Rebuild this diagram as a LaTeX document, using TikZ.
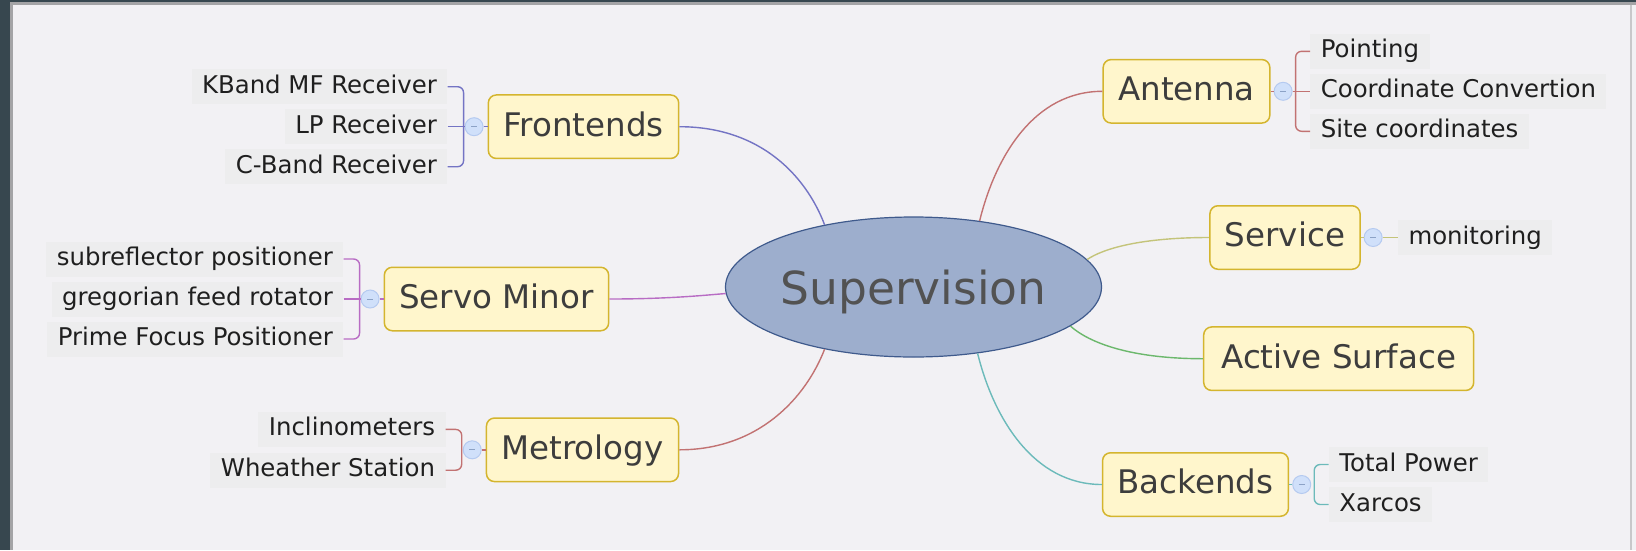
\documentclass[tikz,border=0pt]{standalone}
\usepackage{fontspec}
\setmainfont{DejaVu Sans}
\usetikzlibrary{shapes.geometric}

\definecolor{paper}{HTML}{F2F1F4}
\definecolor{frame}{HTML}{37474F}
\definecolor{rim}{HTML}{A4A4A6}
\definecolor{rimlight}{HTML}{C8C8CA}
\definecolor{subbg}{HTML}{EDEDEE}
\definecolor{topicfill}{HTML}{FFF6CC}
\definecolor{topicdraw}{HTML}{D4B52E}
\definecolor{centfill}{HTML}{9DAECD}
\definecolor{centdraw}{HTML}{3F5A8C}
\definecolor{knobfill}{HTML}{D0E0FA}
\definecolor{knobdraw}{HTML}{B5CAF0}
\definecolor{knobdash}{HTML}{8CA2C6}
\definecolor{cFront}{HTML}{7474C4}
\definecolor{cServo}{HTML}{B86CC4}
\definecolor{cMetro}{HTML}{C27272}
\definecolor{cAnt}{HTML}{C27272}
\definecolor{cServ}{HTML}{C4C47A}
\definecolor{cSurf}{HTML}{6CB86C}
\definecolor{cBack}{HTML}{6CBABA}

\tikzset{
  central/.style={ellipse, draw=centdraw, fill=centfill, line width=1.2pt,
    minimum width=374pt, minimum height=140pt, inner sep=0pt, text=black!68,
    font=\fontsize{45.5pt}{50pt}\selectfont, text height=34pt, text depth=0pt},
  topic/.style={rectangle, rounded corners=8pt, draw=topicdraw, fill=topicfill,
    line width=1.5pt, inner xsep=15pt, inner ysep=0pt, minimum height=63.5pt,
    text height=23.7pt, text depth=5pt, text=black!76,
    font=\fontsize{32.5pt}{39pt}\selectfont},
  leaf/.style={fill=subbg, inner xsep=10.5pt, inner ysep=0pt, text height=24pt,
    text depth=11pt, text=black!88, font=\fontsize{24.4pt}{29pt}\selectfont},
  knob/.style={circle, draw=knobdraw, fill=knobfill, line width=1pt,
    minimum size=18pt, inner sep=0pt,
    path picture={\draw[knobdash, line width=1pt]
      ([xshift=-3pt]path picture bounding box.center) --
      ([xshift=3pt]path picture bounding box.center);}},
  branch/.style={line width=1.4pt},
  twig/.style={line width=1.4pt, rounded corners=6pt},
}

\begin{document}
\begin{tikzpicture}[x=1pt, y=-1pt]
  \useasboundingbox (0,0) rectangle (1636,550);
  % window background and frame
  \fill[paper] (0,0) rectangle (1636,550);
  \fill[frame] (0,0) rectangle (9.5,550);
  \fill[frame] (0,0) rectangle (1636,2);
  \fill[rim] (9.5,2) rectangle (12.5,550);
  \fill[rim] (9.5,2) rectangle (1636,5);
  \fill[rimlight] (1629.5,5) rectangle (1631.5,550);

  % central topic
  \node[central] (sup) at (913.5,287) {Supervision};

  % main topics
  \node[topic] (fr) at (583.5,126.7) {Frontends};
  \node[topic] (sv) at (496.5,299) {Servo Minor};
  \node[topic] (me) at (582.5,449.8) {Metrology};
  \node[topic] (an) at (1186.5,91.3) {Antenna};
  \node[topic] (se) at (1285,237.5) {Service};
  \node[topic, minimum width=270pt] (as) at (1338.7,358.7) {Active Surface};
  \node[topic] (ba) at (1195.5,484.5) {Backends};

  % branches from the centre
  \draw[branch, cFront] (fr.east) .. controls +(80,0) and +(-19,-50) .. (sup.145.7);
  \draw[branch, cServo] (sv.east) .. controls +(64,0) and +(-15,1) .. (sup.182);
  \draw[branch, cMetro] (me.east) .. controls +(79,0) and +(-19,49) .. (sup.-145);
  \draw[branch, cAnt] (an.west) .. controls +(-68,0) and +(16,-65) .. (sup.45.2);
  \draw[branch, cServ] (se.west) .. controls +(-68,0) and +(16,-11) .. (sup.9.2);
  \draw[branch, cSurf] (as.west) .. controls +(-74,0) and +(18,16) .. (sup.-14.4);
  \draw[branch, cBack] (ba.west) .. controls +(-68,0) and +(16,65) .. (sup.-46.9);

  % Frontends
  \node[knob] (kfr) at ([xshift=-13.5pt]fr.west) {};
  \coordinate (bfr) at ([xshift=-24pt]fr.west);
  \node[leaf, anchor=east] (fr1) at ([xshift=-40pt,yshift=40pt]fr.west) {KBand MF Receiver};
  \node[leaf, anchor=east] (fr2) at ([xshift=-40pt]fr.west) {LP Receiver};
  \node[leaf, anchor=east] (fr3) at ([xshift=-40pt,yshift=-40pt]fr.west) {C-Band Receiver};
  \draw[twig, cFront] (fr1.east) -- (bfr |- fr1.east) -- (bfr |- fr3.east) -- (fr3.east);
  \draw[branch, cFront] (fr2.east) -- (kfr.west) (kfr.east) -- (fr.west);

  % Servo Minor
  \node[knob] (ksv) at ([xshift=-13.5pt]sv.west) {};
  \coordinate (bsv) at ([xshift=-24pt]sv.west);
  \node[leaf, anchor=east] (sv1) at ([xshift=-40pt,yshift=40pt]sv.west) {subreflector positioner};
  \node[leaf, anchor=east] (sv2) at ([xshift=-40pt]sv.west) {gregorian feed rotator};
  \node[leaf, anchor=east] (sv3) at ([xshift=-40pt,yshift=-40pt]sv.west) {Prime Focus Positioner};
  \draw[twig, cServo] (sv1.east) -- (bsv |- sv1.east) -- (bsv |- sv3.east) -- (sv3.east);
  \draw[branch, cServo] (sv2.east) -- (ksv.west) (ksv.east) -- (sv.west);

  % Metrology
  \node[knob] (kme) at ([xshift=-13.5pt]me.west) {};
  \coordinate (bme) at ([xshift=-24pt]me.west);
  \node[leaf, anchor=east] (me1) at ([xshift=-40pt,yshift=20.4pt]me.west) {Inclinometers};
  \node[leaf, anchor=east] (me2) at ([xshift=-40pt,yshift=-20.4pt]me.west) {Wheather Station};
  \draw[twig, cMetro] (me1.east) -- (bme |- me1.east) -- (bme |- me2.east) -- (me2.east);
  \draw[branch, cMetro] (kme.east) -- (me.west);

  % Antenna
  \node[knob] (kan) at ([xshift=12.5pt]an.east) {};
  \coordinate (ban) at ([xshift=25pt]an.east);
  \node[leaf, anchor=west] (an1) at ([xshift=39.5pt,yshift=40pt]an.east) {Pointing};
  \node[leaf, anchor=west] (an2) at ([xshift=39.5pt]an.east) {Coordinate Convertion};
  \node[leaf, anchor=west] (an3) at ([xshift=39.5pt,yshift=-40pt]an.east) {Site coordinates};
  \draw[twig, cAnt] (an1.west) -- (ban |- an1.west) -- (ban |- an3.west) -- (an3.west);
  \draw[branch, cAnt] (an.east) -- (kan.west) (kan.east) -- (an2.west);

  % Service
  \node[knob] (kse) at ([xshift=12.3pt]se.east) {};
  \node[leaf, anchor=west] (se1) at ([xshift=37pt]se.east) {monitoring};
  \draw[branch, cServ] (se.east) -- (kse.west) (kse.east) -- (se1.west);

  % Backends
  \node[knob] (kba) at ([xshift=12.5pt]ba.east) {};
  \coordinate (bba) at ([xshift=25pt]ba.east);
  \node[leaf, anchor=west] (ba1) at ([xshift=39.5pt,yshift=20pt]ba.east) {Total Power};
  \node[leaf, anchor=west] (ba2) at ([xshift=39.5pt,yshift=-20pt]ba.east) {Xarcos};
  \draw[twig, cBack] (ba1.west) -- (bba |- ba1.west) -- (bba |- ba2.west) -- (ba2.west);
  \draw[branch, cBack] (ba.east) -- (kba.west);
\end{tikzpicture}
\end{document}
